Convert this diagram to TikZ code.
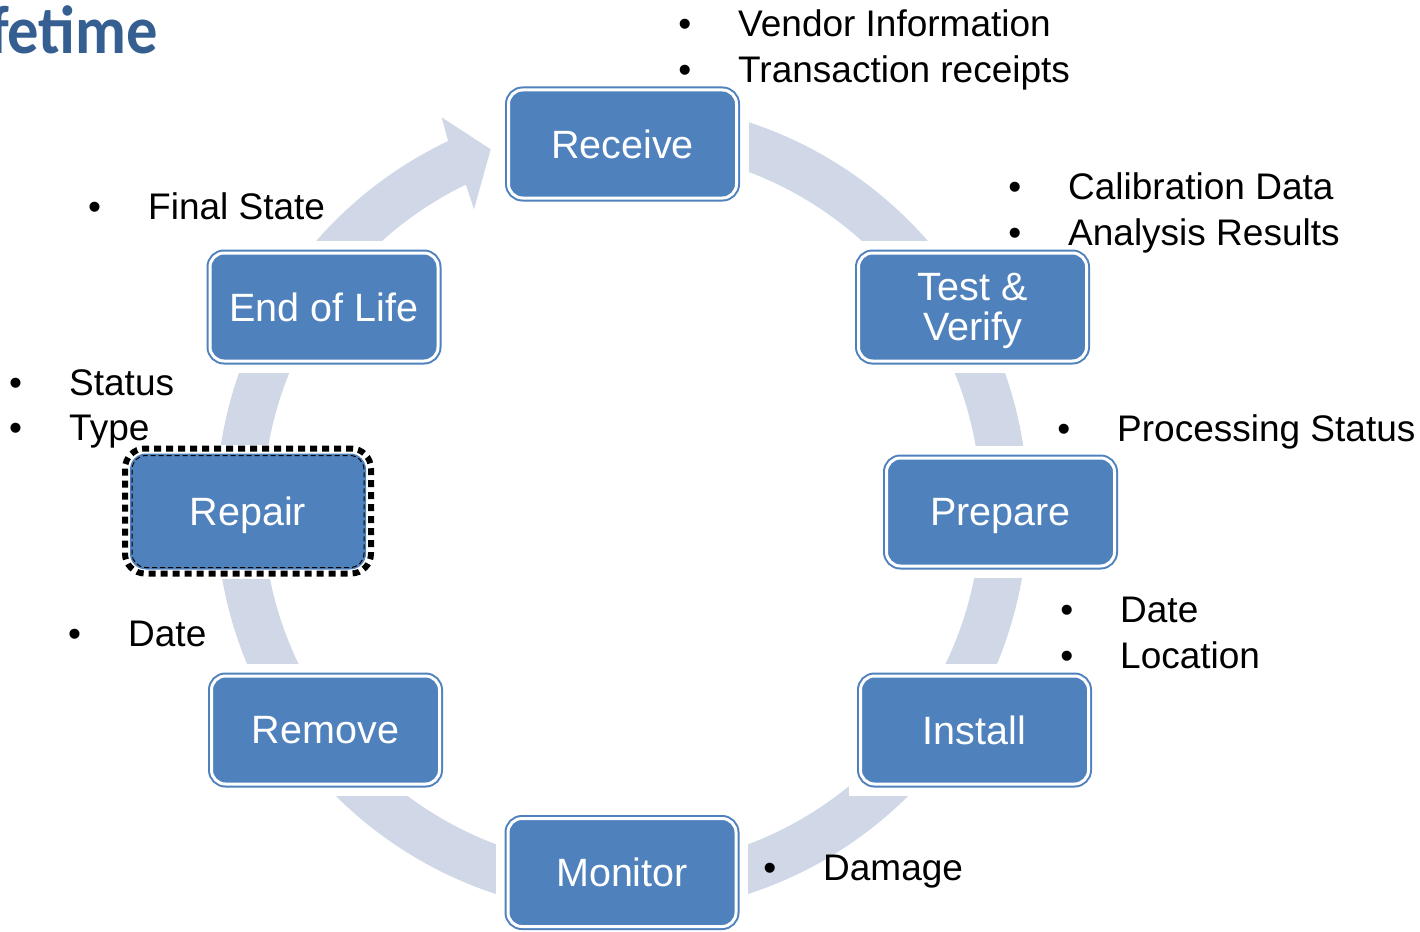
\documentclass[tikz,border=0pt]{standalone}
\usepackage{fontspec}
\setmainfont{Liberation Sans}
\newfontfamily\titlefont{Carlito}
\usetikzlibrary{calc}
\pgfdeclarelayer{background}
\pgfsetlayers{background,main}
\definecolor{boxblue}{RGB}{79,129,189}
\definecolor{ringcol}{RGB}{208,216,232}
\definecolor{titleblue}{RGB}{54,95,145}
\newcommand{\mybullet}{\llap{\textbullet\hspace{47pt}}}
\begin{document}
\begin{tikzpicture}[x=1pt,y=-1pt,
  stepbox/.style={rounded corners=14pt, fill=boxblue, draw=boxblue, double=white,
    line width=2pt, double distance=3pt, minimum width=228pt, minimum height=108pt,
    inner sep=0pt, text=white, font=\fontsize{39.5}{40}\selectfont, align=center,
    text depth=0pt},
  lbl/.style={anchor=base west, inner sep=0pt, font=\fontsize{37}{44}\selectfont},
  ]
\useasboundingbox (0,0) rectangle (1420,931);

% title
\node[anchor=base east, inner sep=0pt, text=titleblue,
  font=\titlefont\bfseries\fontsize{68}{68}\selectfont] (title) at (158,54)
  {\scalebox{0.92}[1]{fetime}};

% boxes
\node[stepbox] (receive) at (622.5,144) {Receive};
\node[stepbox] (test) at (972.5,307) {Test \&\\Verify};
\node[stepbox] (prepare) at (1000.5,512) {Prepare};
\node[stepbox] (install) at (974.5,730) {Install};
\node[stepbox] (monitor) at (622,872.5) {Monitor};
\node[stepbox] (remove) at (325.5,730) {Remove};
\node[stepbox, draw=none, minimum width=236pt, minimum height=116pt, rounded corners=16pt]
  (repair) at (248,511.5) {Repair};
\node[stepbox] (eol) at (324,307) {End of Life};

\draw[black, line width=6pt, dash pattern=on 7pt off 5pt, rounded corners=20pt]
  ([shift={(-4,-4)}]repair.north west) rectangle ([shift={(4,3)}]repair.south east);
\draw[black, line width=1pt, dash pattern=on 5pt off 3pt, rounded corners=14pt]
  ([shift={(3,3)}]repair.north west) rectangle ([shift={(-3,-3)}]repair.south east);

% labels
\node[lbl] (vendor) at (738,37) {\mybullet Vendor Information};
\node[lbl] (trans) at (738,83) {\mybullet Transaction receipts};
\node[lbl] (calib) at (1068,199) {\mybullet Calibration Data};
\node[lbl] (analysis) at (1068,245) {\mybullet Analysis Results};
\node[lbl] (final) at (148,219) {\mybullet Final State};
\node[lbl] (status) at (69,395) {\mybullet Status};
\node[lbl] (type) at (69,440) {\mybullet Type};
\node[lbl] (proc) at (1117,441) {\mybullet Processing Status};
\node[lbl] (dater) at (1120,622) {\mybullet Date};
\node[lbl] (loc) at (1120,668) {\mybullet Location};
\node[lbl] (datel) at (128,646) {\mybullet Date};
\node[lbl] (damage) at (823,880) {\mybullet Damage};

% cycle ring
\begin{pgfonlayer}{background}
  \coordinate (C) at (622,508);
  \draw[ringcol, line width=47pt] (C) circle[radius=382.5];
  \fill[white] ($(C)+(-115.3:335)$) -- ($(C)+(-115.3:425)$) -- ($(C)+(-100:425)$)
    -- ($(C)+(-100:335)$) -- cycle;
  \foreach \n in {receive,test,prepare,install,monitor,remove,eol}
    \fill[white] ([shift={(-11,-11)}]\n.north west) rectangle ([shift={(11,11)}]\n.south east);
  \fill[white] ([shift={(-8,-8)}]repair.north west) rectangle ([shift={(8,8)}]repair.south east);
  \fill[ringcol] (448.3,141.7) -- (441.7,117.3) -- (490.7,149.3) -- (474,209.3)
    -- (466.7,187.3) -- cycle;
\end{pgfonlayer}
\end{tikzpicture}
\end{document}
